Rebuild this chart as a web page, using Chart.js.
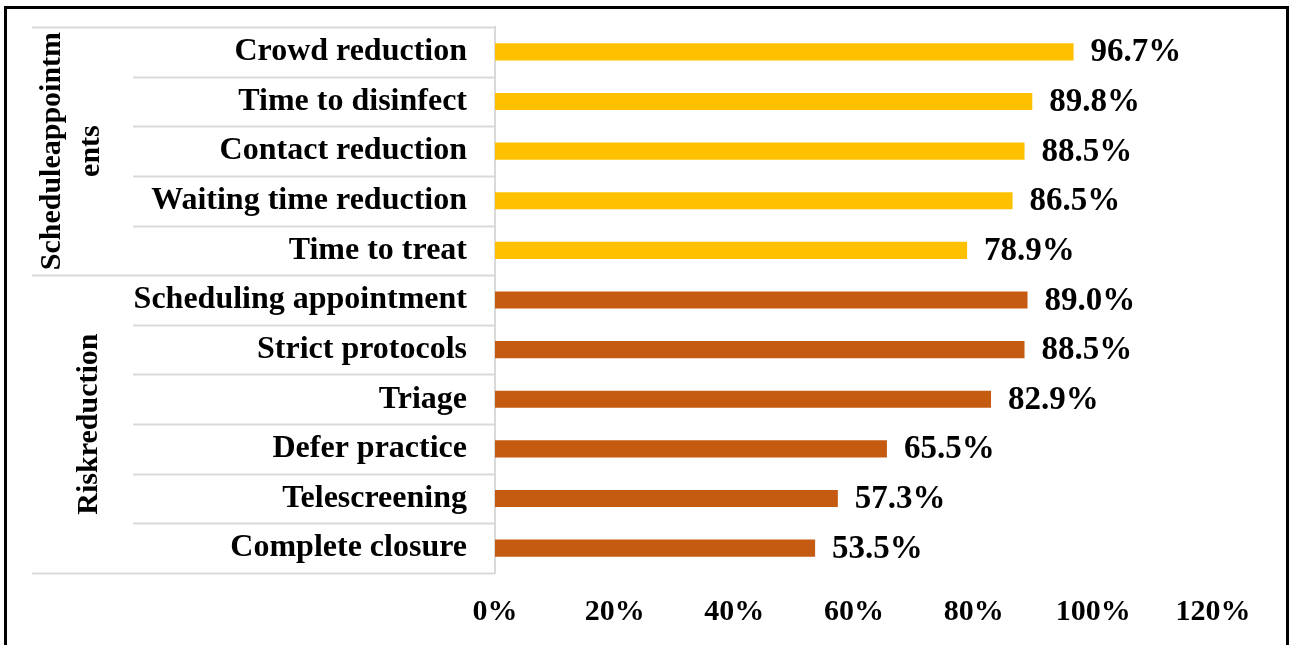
<!DOCTYPE html>
<html>
<head>
<meta charset="utf-8">
<script src="https://cdn.jsdelivr.net/npm/chart.js@4"></script>
<style>
  html, body { margin: 0; padding: 0; background: #fff; }
  #wrap { width: 1290px; height: 645px; }
</style>
</head>
<body>
<div id="wrap"><canvas id="myChart" width="1290" height="645"></canvas></div>
<script>
// data
const categories = [
  "Crowd reduction",
  "Time to disinfect",
  "Contact reduction",
  "Waiting time reduction",
  "Time to treat",
  "Scheduling appointment",
  "Strict protocols",
  "Triage",
  "Defer practice",
  "Telescreening",
  "Complete closure",
];
const values = [96.7, 89.8, 88.5, 86.5, 78.9, 89.0, 88.5, 82.9, 65.5, 57.3, 53.5];
const groupNames = [["Scheduleappointm", "ents"], ["Riskreduction"]];
const groupSizes = [5, 6];
const xTicks = [0, 20, 40, 60, 80, 100, 120];

const groupColors = ["#FFC000", "#C55A11"];
const FONT = "'Liberation Serif', 'Times New Roman', serif";

const barColors = [];
groupSizes.forEach((n, g) => {
  for (let i = 0; i < n; i++) barColors.push(groupColors[g]);
});

// group column, separators, value labels and frame
const extras = {
  id: "extras",
  afterDraw(chart) {
    const ctx = chart.ctx;
    const y = chart.scales.y;
    const x = chart.scales.x;
    const left = chart.chartArea.left;
    const half = (y.getPixelForValue(1) - y.getPixelForValue(0)) / 2;

    ctx.save();
    ctx.strokeStyle = "#d9d9d9";
    ctx.lineWidth = 2;
    let start = 0;
    const groupEdges = [0];
    groupSizes.forEach((n) => { start += n; groupEdges.push(start); });
    for (let i = 0; i <= categories.length; i++) {
      const py = Math.round(y.getPixelForValue(i) - half) + 0.5;
      const isGroup = groupEdges.includes(i);
      ctx.beginPath();
      ctx.moveTo(isGroup ? 32 : 133, py);
      ctx.lineTo(left, py);
      ctx.stroke();
    }

    // group labels, rotated
    ctx.fillStyle = "#000";
    ctx.font = "bold 30px " + FONT;
    ctx.textAlign = "center";
    ctx.textBaseline = "middle";
    const lineX = [[52, 91], [89]];
    let idx = 0;
    groupNames.forEach((lines, g) => {
      const top = y.getPixelForValue(idx) - half;
      const bottom = y.getPixelForValue(idx + groupSizes[g] - 1) + half;
      const cy = (top + bottom) / 2;
      lines.forEach((txt, k) => {
        ctx.save();
        ctx.translate(lineX[g][k], cy);
        ctx.rotate(-Math.PI / 2);
        ctx.fillText(txt, 0, 0);
        ctx.restore();
      });
      idx += groupSizes[g];
    });

    // value labels
    ctx.textAlign = "left";
    ctx.font = "bold 33px " + FONT;
    values.forEach((v, i) => {
      ctx.fillText(v.toFixed(1) + "%", x.getPixelForValue(v) + 17, y.getPixelForValue(i) + 1);
    });

    // outer frame
    ctx.strokeStyle = "#000";
    ctx.lineWidth = 3;
    ctx.strokeRect(5.5, 7.5, 1282, 700);
    ctx.restore();
  },
};

new Chart(document.getElementById("myChart").getContext("2d"), {
  type: "bar",
  data: {
    labels: categories,
    datasets: [
      {
        data: values,
        backgroundColor: barColors,
        borderWidth: 0,
        barPercentage: 0.345,
        categoryPercentage: 1,
      },
    ],
  },
  options: {
    indexAxis: "y",
    responsive: false,
    animation: false,
    layout: { padding: { left: 0, top: 27, right: 77, bottom: 0 } },
    plugins: { legend: { display: false }, tooltip: { enabled: false } },
    scales: {
      x: {
        min: 0,
        max: 120,
        afterBuildTicks: (s) => { s.ticks = xTicks.map((v) => ({ value: v })); },
        afterFit: (s) => { s.height = 72; },
        grid: { display: false, drawTicks: false },
        border: { display: false },
        ticks: {
          padding: 21,
          color: "#000",
          font: { family: FONT, size: 30, weight: "bold" },
          callback: (v) => v + "%",
        },
      },
      y: {
        afterFit: (s) => {
          s.width = 495;
          s.paddingTop = 0;
          s.paddingBottom = 0;
        },
        grid: { display: false, drawTicks: false },
        border: { display: true, color: "#d9d9d9", width: 2 },
        ticks: {
          padding: 28,
          color: "#000",
          font: { family: FONT, size: 32, weight: "bold" },
        },
      },
    },
  },
  plugins: [extras],
});
</script>
</body>
</html>
